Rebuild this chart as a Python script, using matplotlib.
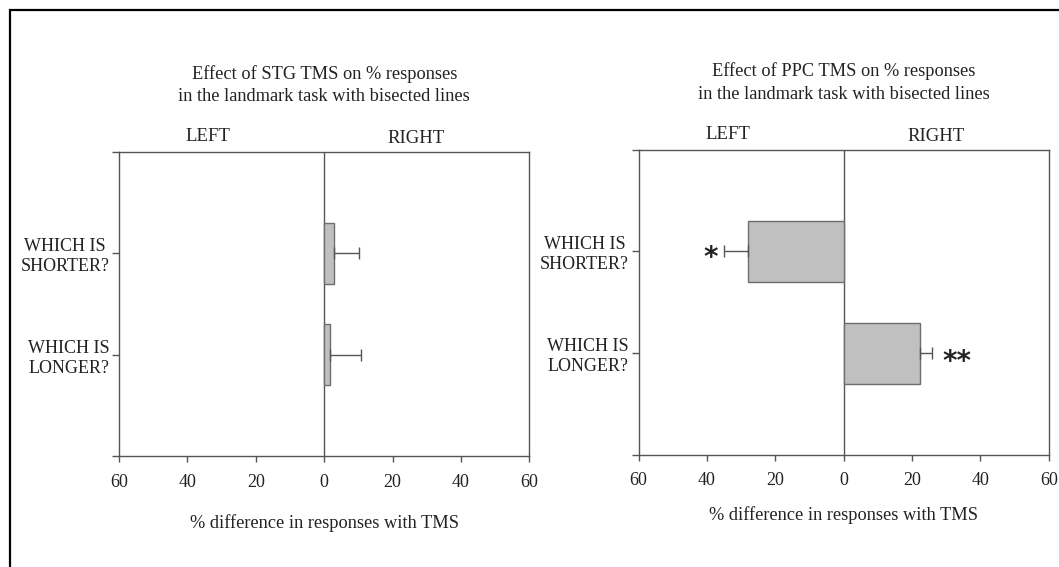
import matplotlib.pyplot as plt
from matplotlib.patches import Rectangle

# data
questions = ['WHICH IS\nSHORTER?', 'WHICH IS\nLONGER?']
stg_values = [3.0, 1.8]
stg_errors = [7.3, 9.0]
ppc_values = [-28.1, 22.3]
ppc_errors = [6.9, 3.6]
ppc_stars = ['*', '**']
star_x = [-39.0, 33.0]
tick_vals = [-60, -40, -20, 0, 20, 40, 60]
tick_text = ['60', '40', '20', '0', '20', '40', '60']

titles = ['Effect of STG TMS on % responses\nin the landmark task with bisected lines',
          'Effect of PPC TMS on % responses\nin the landmark task with bisected lines']

plt.rcParams['font.family'] = ['Liberation Serif', 'DejaVu Serif']
grey = '#555555'
ink = '#222222'

fig = plt.figure(figsize=(10.59, 5.67), dpi=100)
ax1 = fig.add_axes([0.1125, 0.195, 0.3873, 0.537])
ax2 = fig.add_axes([0.603, 0.198, 0.3874, 0.538])


def draw_panel(ax, values, errors, title, xlabpad):
    ypos = [1, 2]
    for y, v, e in zip(ypos, values, errors):
        ax.barh(y, v, height=0.6, color='#c0c0c0', edgecolor='#6e6e6e', linewidth=1, zorder=2)
        # one sided error bar, pointing away from zero
        if v >= 0:
            xerr = [[0], [e]]
        else:
            xerr = [[e], [0]]
        ax.errorbar(v, y, xerr=xerr, fmt='none', ecolor=grey, elinewidth=1,
                    capsize=4, capthick=1, zorder=3)
    ax.axvline(0, color=grey, lw=1, zorder=1)
    ax.set_xlim(-60, 60)
    ax.set_ylim(3, 0)
    ax.set_xticks(tick_vals)
    ax.set_xticklabels(tick_text, color=ink)
    ax.set_yticks([0, 1, 2, 3])
    ax.set_yticklabels([''] + questions + [''], multialignment='center', color=ink)
    ax.tick_params(axis='x', length=4, width=1, color=grey, pad=8.5, labelsize=13)
    ax.tick_params(axis='y', length=5, width=1, color=grey, pad=2, labelsize=13)
    for s in ax.spines.values():
        s.set_color(grey)
        s.set_linewidth(1)
    ax.set_xlabel('% difference in responses with TMS', fontsize=13.2, labelpad=xlabpad, color=ink)
    ax.text(-34, -0.07, 'LEFT', ha='center', va='bottom', fontsize=13.5, color=ink)
    ax.text(27, -0.045, 'RIGHT', ha='center', va='bottom', fontsize=13.5, color=ink)
    ax.text(0, -0.46, title, ha='center', va='bottom', fontsize=13.2, color=ink,
            linespacing=1.42)


draw_panel(ax1, stg_values, stg_errors, titles[0], 17)
draw_panel(ax2, ppc_values, ppc_errors, titles[1], 12.5)

for s, x, y, dy in zip(ppc_stars, star_x, [1, 2], [0.07, 0.09]):
    ax2.text(x, y + dy, s, ha='center', va='center', fontsize=20, color=ink,
             family='DejaVu Sans', fontweight='bold')

# outer frame, cut off on the right and bottom like the source
fig.patches.append(Rectangle((9.5 / 1059, -0.05), 1.2, 1 - 9.5 / 567 + 0.05,
                             transform=fig.transFigure, fill=False,
                             edgecolor='black', linewidth=1.6))

fig.savefig('out.png', dpi=100)
